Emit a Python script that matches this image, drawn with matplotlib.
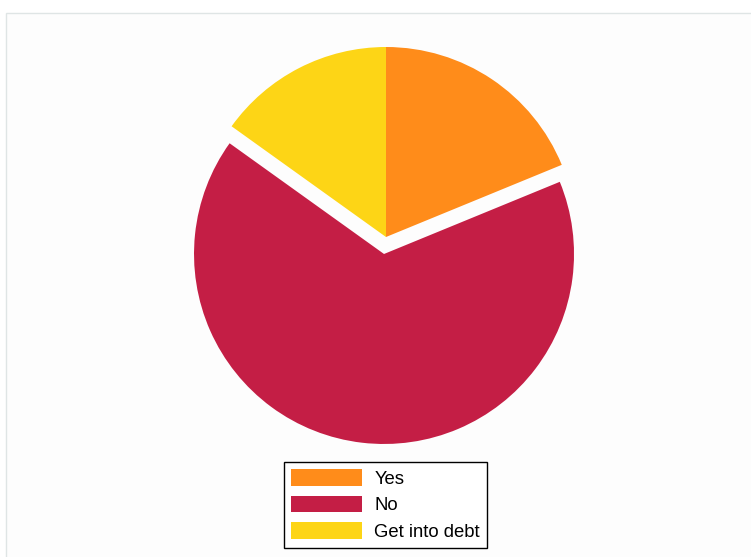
import matplotlib.pyplot as plt
from matplotlib.patches import Rectangle

plt.rcParams['font.family'] = ['Liberation Sans', 'DejaVu Sans']

# data (percent)
labels = ["Yes", "No", "Get into debt"]
shares = [18.8, 66.1, 15.1]
colors = ["#FF8C1A", "#C41E45", "#FDD516"]
explode = [0, 0.09, 0]

W, H = 751, 557
fig = plt.figure(figsize=(W / 100, H / 100), dpi=100)
fig.patch.set_facecolor("white")

# faint outer frame
fig.add_artist(Rectangle((6 / W, -0.01), 1.0, 1 - 13 / H + 0.01, transform=fig.transFigure,
                         facecolor="#fdfdfd", edgecolor="#dfe5e5", linewidth=1, zorder=0))

# pie of radius 190 px centred at (386, 237)
R = 190
half = 1.3 * R
cx, cy = 386, H - 237
ax = fig.add_axes([(cx - half) / W, (cy - half) / H, 2 * half / W, 2 * half / H])
ax.set_facecolor("none")
wedges, _ = ax.pie(shares, colors=colors, explode=explode, startangle=90,
                   counterclock=False, wedgeprops={"linewidth": 0})
ax.set_xlim(-1.3, 1.3)
ax.set_ylim(-1.3, 1.3)
ax.set_aspect("equal")
ax.axis("off")

leg = fig.legend(wedges, labels, loc="upper center",
                 bbox_to_anchor=(385.5 / W, 1 - 462 / H), fontsize=13.3,
                 frameon=True, fancybox=False, edgecolor="black", framealpha=1,
                 handlelength=3.85, handleheight=1.0, handletextpad=0.65,
                 labelspacing=0.42, borderpad=0.4, borderaxespad=0)
leg.get_frame().set_linewidth(1)

fig.savefig("out.png", dpi=100)
